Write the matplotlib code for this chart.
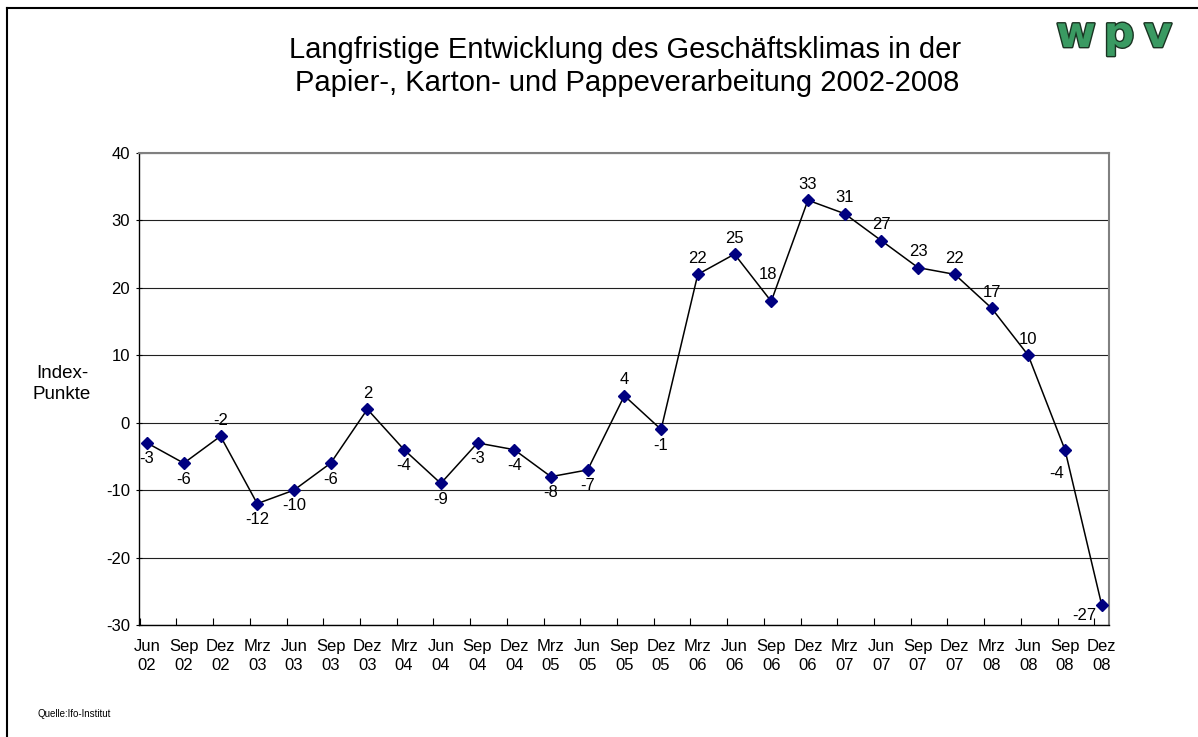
import matplotlib.pyplot as plt
import matplotlib.patheffects as pe
from matplotlib.lines import Line2D

plt.rcParams['font.family'] = ['Liberation Sans', 'DejaVu Sans']
plt.rcParams['axes.unicode_minus'] = False

# Daten
monate = ['Jun', 'Sep', 'Dez', 'Mrz', 'Jun', 'Sep', 'Dez', 'Mrz', 'Jun', 'Sep', 'Dez', 'Mrz', 'Jun', 'Sep',
          'Dez', 'Mrz', 'Jun', 'Sep', 'Dez', 'Mrz', 'Jun', 'Sep', 'Dez', 'Mrz', 'Jun', 'Sep', 'Dez']
jahre = ['02', '02', '02', '03', '03', '03', '03', '04', '04', '04', '04', '05', '05', '05',
         '05', '06', '06', '06', '06', '07', '07', '07', '07', '08', '08', '08', '08']
werte = [-3, -6, -2, -12, -10, -6, 2, -4, -9, -3, -4, -8, -7, 4,
         -1, 22, 25, 18, 33, 31, 27, 23, 22, 17, 10, -4, -27]
# label oben (1) / unten (0) / sonder (2, 3, 4)
pos = [0, 0, 1, 0, 0, 0, 1, 0, 0, 0, 0, 0, 0, 1,
       0, 1, 1, 2, 1, 1, 1, 1, 1, 1, 1, 3, 4]

W, H = 1198, 737
fig = plt.figure(figsize=(W / 100, H / 100), dpi=100)

# Rahmen
fig.add_artist(Line2D([7 / W, 1], [1 - 8 / H, 1 - 8 / H], color='black', lw=1.5))
fig.add_artist(Line2D([7 / W, 7 / W], [0, 1 - 8 / H], color='black', lw=1.5))

ax = fig.add_axes([139 / W, 1 - 625 / H, (1109 - 139) / W, (625 - 153) / H])
n = len(werte)
x = list(range(n))
ax.plot(x, werte, color='black', lw=1.1, zorder=3)
ax.plot(x, werte, ls='none', marker='D', ms=6.5, color='#000080', zorder=4)

ax.set_xlim(-0.22, 26.2)
ax.set_ylim(-30, 40)
ax.set_yticks(range(-30, 41, 10))
ax.yaxis.grid(True, color='#202020', lw=0.8)
ax.set_axisbelow(True)

ax.set_xticks([i - 0.2 for i in x])
ax.set_xticklabels([])
ax.set_xticks(x, minor=True)
ax.set_xticklabels([m + '\n' + j for m, j in zip(monate, jahre)], minor=True, fontsize=12, linespacing=1.35)
ax.tick_params(axis='x', which='minor', length=0, pad=10)
ax.tick_params(axis='x', which='major', length=5, direction='in')
ax.tick_params(axis='y', length=5, direction='inout', labelsize=12, pad=4)

for s in ['top', 'right']:
    ax.spines[s].set_color('#808080')
    ax.spines[s].set_linewidth(1.5)
for s in ['left', 'bottom']:
    ax.spines[s].set_color('black')
    ax.spines[s].set_linewidth(1)

offsets = {1: ((0, 6), 'center', 'bottom'),
           0: ((0, -6), 'center', 'top'),
           2: ((-2, 14), 'center', 'bottom'),
           3: ((-6, -12), 'center', 'top'),
           4: ((-4, -2), 'right', 'top')}
for i, v in enumerate(werte):
    xy, ha, va = offsets[pos[i]]
    ax.annotate(str(v), (i, v), xytext=xy, textcoords='offset points', ha=ha, va=va, fontsize=12)

fig.text(62 / W, 1 - 384 / H, 'Index-\nPunkte', ha='center', va='center', fontsize=13.5, linespacing=1.3)

fig.text(625 / W, 1 - 50 / H, 'Langfristige Entwicklung des Geschäftsklimas in der',
         ha='center', va='center', fontsize=21)
fig.text(627 / W, 1 - 83 / H, 'Papier-, Karton- und Pappeverarbeitung 2002-2008',
         ha='center', va='center', fontsize=21)

fig.text(38 / W, 1 - 714 / H, 'Quelle:Ifo-Institut', ha='left', va='center', fontsize=7)

# Logo
for buchst, xp in zip(['w', 'p', 'v'], [1076, 1119, 1158]):
    fig.text(xp / W, 1 - 47 / H, buchst, ha='center', va='baseline', fontsize=31, fontweight='bold',
             family='DejaVu Sans', color='#3a9a62',
             path_effects=[pe.withStroke(linewidth=2, foreground='#1a3322')])

fig.savefig('out.png', dpi=100)
